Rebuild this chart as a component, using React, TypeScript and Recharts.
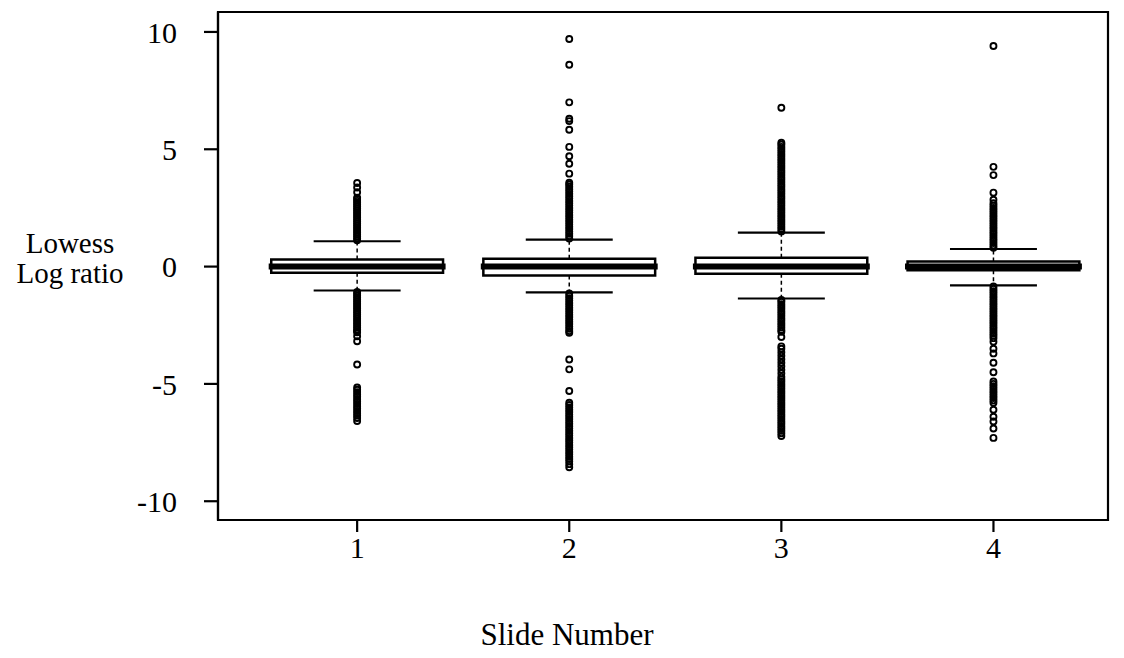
import React from "react";
import {
  ComposedChart,
  Scatter,
  XAxis,
  YAxis,
  ReferenceArea,
  ReferenceLine,
} from "recharts";

const slides = [1, 2, 3, 4];
const q1s = [-0.26, -0.38, -0.3, -0.16];
const medians = [0, 0, 0, 0];
const q3s = [0.3, 0.33, 0.38, 0.22];
const lowerWhiskers = [-1.02, -1.1, -1.36, -0.8];
const upperWhiskers = [1.08, 1.15, 1.45, 0.75];
const yTicks = [-10, -5, 0, 5, 10];

const outliers1 = [
  1.12, 1.2, 1.28, 1.36, 1.44, 1.52, 1.6, 1.68, 1.76, 1.84, 1.92, 2.0, 2.08, 2.16,
  2.24, 2.32, 2.4, 2.48, 2.56, 2.64, 2.72, 2.8, 2.88, 2.94, 3.17, 3.37, 3.56,
  -1.08, -1.16, -1.24, -1.32, -1.4, -1.48, -1.56, -1.64, -1.72, -1.8, -1.88, -1.96,
  -2.04, -2.12, -2.2, -2.28, -2.36, -2.44, -2.52, -2.6, -2.68, -2.75, -2.8, -2.97,
  -3.18, -4.17, -5.15, -5.25, -5.35, -5.45, -5.55, -5.65, -5.75, -5.85, -5.95,
  -6.05, -6.15, -6.25, -6.35, -6.45, -6.58,
];
const outliers2 = [
  1.2, 1.3, 1.4, 1.5, 1.6, 1.7, 1.8, 1.9, 2.0, 2.1, 2.2, 2.3, 2.4, 2.5, 2.6, 2.7,
  2.8, 2.9, 3.0, 3.1, 3.2, 3.3, 3.4, 3.5, 3.57, 3.96, 4.38, 4.7, 5.1, 5.83, 6.2,
  6.3, 7.0, 8.6, 9.7,
  -1.15, -1.25, -1.35, -1.45, -1.55, -1.65, -1.75, -1.85, -1.95, -2.05, -2.15,
  -2.25, -2.35, -2.45, -2.55, -2.65, -2.75, -2.82, -3.96, -4.38, -5.3, -5.8,
  -5.9, -6.0, -6.1, -6.2, -6.3, -6.4, -6.5, -6.6, -6.7, -6.8, -6.9, -7.0, -7.1,
  -7.2, -7.3, -7.4, -7.5, -7.6, -7.7, -7.8, -7.9, -8.0, -8.1, -8.2, -8.3, -8.42,
  -8.55,
];
const outliers3 = [
  1.5, 1.6, 1.7, 1.8, 1.9, 2.0, 2.1, 2.2, 2.3, 2.4, 2.5, 2.6, 2.7, 2.8, 2.9, 3.0,
  3.1, 3.2, 3.3, 3.4, 3.5, 3.6, 3.7, 3.8, 3.9, 4.0, 4.1, 4.2, 4.3, 4.4, 4.5, 4.6,
  4.7, 4.8, 4.9, 5.0, 5.1, 5.2, 5.28, 6.77,
  -1.42, -1.5, -1.6, -1.7, -1.8, -1.9, -2.0, -2.1, -2.2, -2.3, -2.4, -2.5, -2.6,
  -2.7, -2.78, -3.0, -3.4, -3.5, -3.65, -3.8, -3.95, -4.1, -4.25, -4.4, -4.55,
  -4.7, -4.8, -4.9, -5.0, -5.1, -5.2, -5.3, -5.4, -5.5, -5.6, -5.7, -5.8, -5.9,
  -6.0, -6.1, -6.2, -6.3, -6.4, -6.5, -6.6, -6.7, -6.8, -6.9, -7.0, -7.1, -7.22,
];
const outliers4 = [
  0.8, 0.9, 1.0, 1.1, 1.2, 1.3, 1.4, 1.5, 1.6, 1.7, 1.8, 1.9, 2.0, 2.1, 2.2, 2.3,
  2.4, 2.5, 2.6, 2.7, 2.85, 3.15, 3.9, 4.25, 9.4,
  -0.85, -0.95, -1.05, -1.15, -1.25, -1.35, -1.45, -1.55, -1.65, -1.75, -1.85,
  -1.95, -2.05, -2.15, -2.25, -2.35, -2.45, -2.55, -2.65, -2.75, -2.85, -2.95,
  -3.05, -3.2, -3.5, -3.7, -4.1, -4.5, -4.9, -5.0, -5.1, -5.2, -5.3, -5.4, -5.5,
  -5.6, -5.7, -5.8, -6.1, -6.4, -6.6, -6.9, -7.3,
];
const outlierSets = [outliers1, outliers2, outliers3, outliers4];

const FONT = "'Liberation Serif', 'Times New Roman', serif";
const X_DOMAIN: [number, number] = [0.344, 4.54];
const Y_DOMAIN: [number, number] = [-10.8, 10.85];
const BOX_HALF = 0.405;
const CAP_HALF = 0.205;

const outlierData = outlierSets.flatMap((set, i) =>
  set.map((v) => ({ x: slides[i], y: v }))
);

// open circles, like R's pch = 1
// eslint-disable-next-line @typescript-eslint/no-explicit-any
const OutlierDot = (props: any) => (
  <circle cx={props.cx} cy={props.cy} r={3} fill="none" stroke="#000" strokeWidth={1.9} />
);

// eslint-disable-next-line @typescript-eslint/no-explicit-any
const XLabel = (_props: any) => (
  <text x={567} y={645} textAnchor="middle" fontFamily={FONT} fontSize={31} fill="#000">
    Slide Number
  </text>
);

// eslint-disable-next-line @typescript-eslint/no-explicit-any
const YLabel = (_props: any) => (
  <g>
    <text x={70} y={253} textAnchor="middle" fontFamily={FONT} fontSize={29} fill="#000">
      Lowess
    </text>
    <text x={70} y={283} textAnchor="middle" fontFamily={FONT} fontSize={29} fill="#000">
      Log ratio
    </text>
  </g>
);

export default function App() {
  const tick = { fill: "#000", fontSize: 30, fontFamily: FONT };
  return (
    <div style={{ position: "absolute", left: 0, top: 0, background: "#fff" }}>
      <ComposedChart
        width={1124}
        height={658}
        margin={{ top: 12, right: 16, left: 0, bottom: 0 }}
      >
        <XAxis
          xAxisId="main"
          type="number"
          dataKey="x"
          domain={X_DOMAIN}
          ticks={slides}
          allowDataOverflow
          height={138}
          tick={tick}
          tickSize={12}
          tickMargin={5}
          stroke="#000"
          strokeWidth={2.2}
          label={<XLabel />}
        />
        <YAxis
          yAxisId="main"
          type="number"
          dataKey="y"
          domain={Y_DOMAIN}
          ticks={yTicks}
          allowDataOverflow
          width={218}
          tick={tick}
          tickSize={14}
          tickMargin={27}
          stroke="#000"
          strokeWidth={2.2}
          label={<YLabel />}
        />
        <ReferenceArea
          xAxisId="main"
          yAxisId="main"
          x1={X_DOMAIN[0]}
          x2={X_DOMAIN[1]}
          y1={Y_DOMAIN[0]}
          y2={Y_DOMAIN[1]}
          fill="none"
          stroke="#000"
          strokeWidth={2.2}
          ifOverflow="visible"
        />
        {slides.map((s, i) => (
          <ReferenceLine
            key={`wu${s}`}
            xAxisId="main"
            yAxisId="main"
            segment={[{ x: s, y: q3s[i] }, { x: s, y: upperWhiskers[i] }]}
            stroke="#000"
            strokeWidth={1.5}
            strokeDasharray="4 3"
          />
        ))}
        {slides.map((s, i) => (
          <ReferenceLine
            key={`wl${s}`}
            xAxisId="main"
            yAxisId="main"
            segment={[{ x: s, y: q1s[i] }, { x: s, y: lowerWhiskers[i] }]}
            stroke="#000"
            strokeWidth={1.5}
            strokeDasharray="4 3"
          />
        ))}
        {slides.map((s, i) => (
          <ReferenceArea
            key={`box${s}`}
            xAxisId="main"
            yAxisId="main"
            x1={s - BOX_HALF}
            x2={s + BOX_HALF}
            y1={q1s[i]}
            y2={q3s[i]}
            fill="#fff"
            fillOpacity={1}
            stroke="#000"
            strokeWidth={2.5}
          />
        ))}
        {slides.map((s, i) => (
          <ReferenceLine
            key={`med${s}`}
            xAxisId="main"
            yAxisId="main"
            segment={[{ x: s - BOX_HALF - 0.012, y: medians[i] }, { x: s + BOX_HALF + 0.012, y: medians[i] }]}
            stroke="#000"
            strokeWidth={6}
          />
        ))}
        {slides.map((s, i) => (
          <ReferenceLine
            key={`cu${s}`}
            xAxisId="main"
            yAxisId="main"
            segment={[{ x: s - CAP_HALF, y: upperWhiskers[i] }, { x: s + CAP_HALF, y: upperWhiskers[i] }]}
            stroke="#000"
            strokeWidth={2.2}
          />
        ))}
        {slides.map((s, i) => (
          <ReferenceLine
            key={`cl${s}`}
            xAxisId="main"
            yAxisId="main"
            segment={[{ x: s - CAP_HALF, y: lowerWhiskers[i] }, { x: s + CAP_HALF, y: lowerWhiskers[i] }]}
            stroke="#000"
            strokeWidth={2.2}
          />
        ))}
        <Scatter
          xAxisId="main"
          yAxisId="main"
          data={outlierData}
          shape={<OutlierDot />}
          isAnimationActive={false}
        />
      </ComposedChart>
    </div>
  );
}
